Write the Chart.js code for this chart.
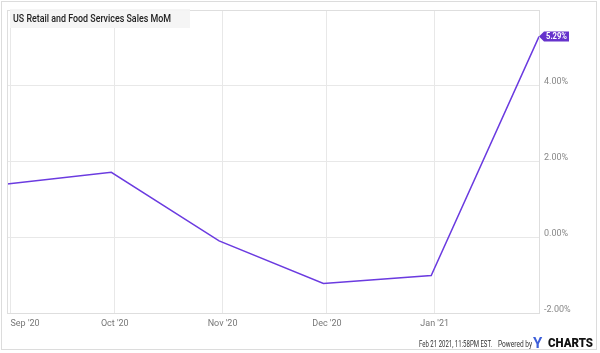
<!DOCTYPE html>
<html>
<head>
<meta charset="utf-8">
<script src="https://cdn.jsdelivr.net/npm/chart.js@4.4.0/dist/chart.umd.min.js"></script>
<style>
  html, body { margin: 0; padding: 0; background: #fff; }
  canvas { display: block; }
</style>
</head>
<body>
<canvas id="chart" width="600" height="353"></canvas>
<script>
// Data (x = days from Sep 1 2020, points dated at month end)
const pointDays = [-1, 29, 60, 90, 121, 152];
const salesMoM = [1.40, 1.71, -0.10, -1.22, -1.01, 5.29];

// Axis ticks
const tickDays = [0, 30, 61, 91, 122];
const tickLabels = ["Sep '20", "Oct '20", "Nov '20", "Dec '20", "Jan '21"];
const yTicks = [-2, 0, 2, 4];

const title = "US Retail and Food Services Sales MoM";
const lineColor = "#6b3be0";

// draw text squeezed to a given width (the original uses a condensed face)
function fitText(ctx, text, x, y, w) {
  const m = ctx.measureText(text).width;
  ctx.save();
  ctx.translate(x, y);
  if (m > w) ctx.scale(w / m, 1);
  ctx.fillText(text, 0, 0);
  ctx.restore();
}

const decor = {
  id: "decor",
  beforeDraw(chart) {
    const ctx = chart.ctx;
    ctx.save();
    // outer frame
    ctx.strokeStyle = "#dcdcdc";
    ctx.lineWidth = 1;
    ctx.strokeRect(1.5, 1.5, 595, 348);
    ctx.restore();
  },
  afterDatasetsDraw(chart) {
    const ctx = chart.ctx;
    const a = chart.chartArea;
    ctx.save();
    // plot frame
    ctx.strokeStyle = "#dedede";
    ctx.lineWidth = 1;
    ctx.strokeRect(Math.round(a.left) + 0.5, Math.round(a.top) + 0.5,
      Math.round(a.right - a.left), Math.round(a.bottom - a.top));

    // title box
    ctx.fillStyle = "rgba(244,244,244,0.92)";
    ctx.fillRect(10, 9, 180, 19);
    ctx.fillStyle = "#222";
    ctx.font = "500 11.5px Roboto";
    ctx.textBaseline = "middle";
    fitText(ctx, title, 13, 19, 158);

    // last value flag
    const meta = chart.getDatasetMeta(0);
    const last = meta.data[meta.data.length - 1];
    const px = last.x, py = last.y;
    ctx.fillStyle = "#6633cc";
    ctx.beginPath();
    ctx.moveTo(px, py);
    ctx.lineTo(px + 5, py - 5);
    ctx.lineTo(px + 30, py - 5);
    ctx.lineTo(px + 30, py + 5);
    ctx.lineTo(px + 5, py + 5);
    ctx.closePath();
    ctx.fill();
    ctx.fillStyle = "#fff";
    ctx.font = "bold 9px Roboto";
    ctx.textBaseline = "middle";
    fitText(ctx, salesMoM[salesMoM.length - 1].toFixed(2) + "%", px + 7, py + 0.5, 21);

    // footer
    ctx.textBaseline = "alphabetic";
    ctx.fillStyle = "#333";
    ctx.font = "9px Roboto";
    fitText(ctx, "Feb 21 2021, 11:58PM EST.", 419, 347, 73);
    fitText(ctx, "Powered by", 498, 347, 34);
    ctx.fillStyle = "#3d5fd9";
    ctx.font = "bold 15px Roboto";
    fitText(ctx, "Y", 533, 348, 14);
    ctx.fillStyle = "#111";
    ctx.font = "900 12.5px Roboto";
    fitText(ctx, "CHARTS", 548, 347, 45);
    ctx.restore();
  }
};

new Chart(document.getElementById("chart"), {
  type: "line",
  data: {
    datasets: [{
      data: pointDays.map((d, i) => ({ x: d, y: salesMoM[i] })),
      borderColor: lineColor,
      borderWidth: 1.5,
      pointRadius: 0,
      tension: 0,
      fill: false
    }]
  },
  options: {
    responsive: false,
    animation: false,
    devicePixelRatio: 1,
    layout: { padding: { left: 7, top: 7, right: 0, bottom: 0 } },
    plugins: { legend: { display: false }, tooltip: { enabled: false } },
    scales: {
      x: {
        type: "linear",
        min: -1,
        max: 152,
        afterBuildTicks(scale) {
          scale.ticks = tickDays.map(v => ({ value: v })).concat([{ value: 152 }]);
        },
        afterFit(scale) { scale.height = 40; },
        grid: { color: "#e8e8e8", drawTicks: false },
        border: { display: false },
        ticks: {
          autoSkip: false,
          maxRotation: 0,
          align: "inner",
          padding: 5,
          color: "#777",
          font: { family: "Roboto", size: 9 },
          callback: (v, i) => tickLabels[i] || ""
        }
      },
      y: {
        position: "right",
        min: -2,
        max: 5.98,
        afterBuildTicks(scale) {
          scale.ticks = yTicks.map(v => ({ value: v }));
        },
        afterFit(scale) { scale.width = 61; },
        grid: { color: "#e8e8e8", drawTicks: false },
        border: { display: false },
        ticks: {
          padding: 5,
          labelOffset: -3.5,
          color: "#888",
          font: { family: "Roboto", size: 9 },
          callback: v => v.toFixed(2) + "%"
        }
      }
    }
  },
  plugins: [decor]
});
</script>
</body>
</html>
